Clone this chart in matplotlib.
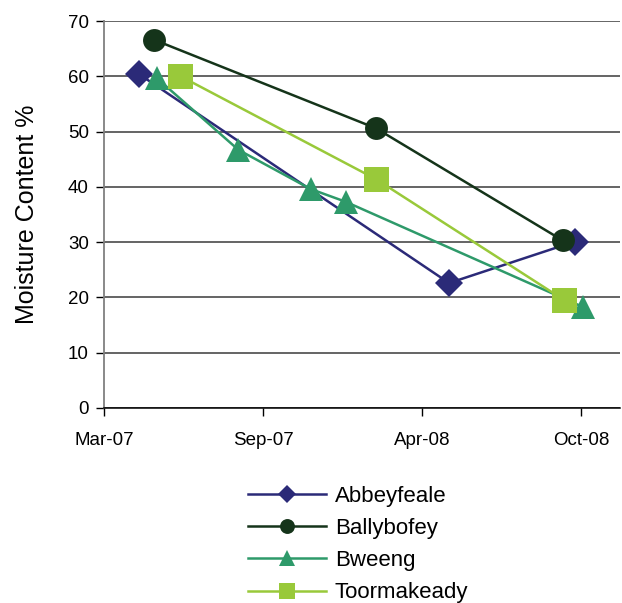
import matplotlib
matplotlib.use("Agg")
import matplotlib.pyplot as plt
import matplotlib.dates as mdates
import numpy as np

plt.rcParams['font.family'] = ['Liberation Sans', 'DejaVu Sans']

# Data
abbeyfeale_dates = ["2007-04-23", "2008-05-17", "2008-10-22"]
abbeyfeale_vals = [60.4, 22.6, 30.1]
ballybofey_dates = ["2007-05-12", "2008-02-15", "2008-10-07"]
ballybofey_vals = [66.6, 50.6, 30.3]
bweeng_dates = ["2007-05-16", "2007-08-26", "2007-11-25", "2008-01-08", "2008-11-01"]
bweeng_vals = [59.6, 46.7, 39.6, 37.3, 18.3]
toormakeady_dates = ["2007-06-13", "2008-02-15", "2008-10-08"]
toormakeady_vals = [60.1, 41.4, 19.6]

tick_dates = ["2007-03-10", "2007-09-26", "2008-04-13", "2008-10-30"]
tick_labels = ["Mar-07", "Sep-07", "Apr-08", "Oct-08"]
x_min, x_max = "2007-03-10", "2008-12-18"

def d(lst):
    return [mdates.datestr2num(s) for s in lst]

fig = plt.figure(figsize=(6.22, 6.03), dpi=100)
ax = fig.add_axes([104/622, 195/603, (620-104)/622, (408-21)/603])

series = [
    ("Abbeyfeale", abbeyfeale_dates, abbeyfeale_vals, "#2B2A78", "D", 14),
    ("Ballybofey", ballybofey_dates, ballybofey_vals, "#15341A", "o", 16.5),
    ("Bweeng", bweeng_dates, bweeng_vals, "#2E9A6A", "^", 17),
    ("Toormakeady", toormakeady_dates, toormakeady_vals, "#99C93A", "s", 18),
]
for name, dts, vals, col, mk, ms in series:
    ax.plot(d(dts), vals, color=col, marker=mk, markersize=ms, lw=1.8,
            label=name, markeredgewidth=0, solid_joinstyle='miter')

ax.set_xlim(mdates.datestr2num(x_min), mdates.datestr2num(x_max))
ax.set_ylim(0, 70)
ax.set_yticks(np.arange(0, 71, 10))
ax.set_xticks(d(tick_dates))
ax.set_xticklabels(tick_labels)
ax.grid(axis='y', color='#3a3a3a', lw=1.1)
ax.set_axisbelow(True)
for s in ['top', 'right']:
    ax.spines[s].set_visible(False)
ax.spines['left'].set_color('#808080')
ax.spines['left'].set_linewidth(1.3)
ax.spines['bottom'].set_color('#000000')
ax.spines['bottom'].set_linewidth(1.1)
ax.tick_params(axis='both', labelsize=13.5, length=6, width=1, direction='out', pad=5)
ax.tick_params(axis='x', pad=11)
ax.set_ylabel("Moisture Content %", fontsize=18, labelpad=21)

leg = fig.legend(loc='upper left', bbox_to_anchor=(228/622, 1 - 466/603), frameon=False,
                 fontsize=16, handlelength=3.5, handletextpad=0.4, labelspacing=0.5,
                 markerscale=0.65)

fig.savefig("out.png", dpi=100)
